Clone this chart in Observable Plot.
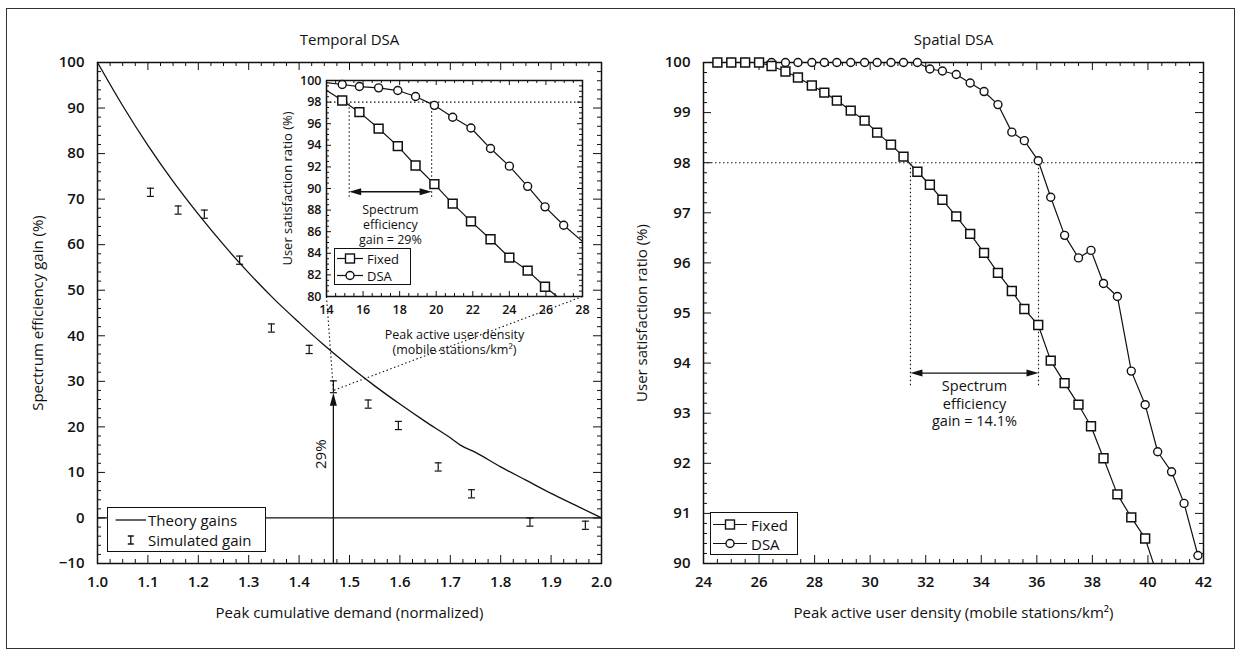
<!DOCTYPE html>
<html><head><meta charset="utf-8">
<script src="https://cdn.jsdelivr.net/npm/d3@7"></script>
<script src="https://cdn.jsdelivr.net/npm/@observablehq/plot@0.6"></script>
<style>
body{margin:0;background:#fff;font-family:"Open Sans",sans-serif;color:#111;}
#wrap{position:relative;width:1248px;height:652px;overflow:hidden;background:#fff;}
#border{position:absolute;left:6px;top:8px;width:1229px;height:641px;border:1px solid #333;box-sizing:border-box;}
.abs{position:absolute;}
.abs svg{display:block;overflow:visible;}
.legend{position:absolute;border:1.3px solid #111;background:#fff;box-sizing:border-box;}
.legend .row{position:absolute;left:0;display:flex;align-items:center;white-space:nowrap;}
.legend svg{display:block;}
</style></head><body>
<div id="wrap"><div id="border"></div></div>
<script>
// ---------------- DATA ----------------
// Temporal DSA (left panel)
const theoryX = [1.00,1.05,1.10,1.15,1.20,1.25,1.30,1.35,1.40,1.45,1.50,1.55,1.60,1.65,1.70,1.72,1.75,1.80,1.85,1.90,1.95,2.00];
const theoryY = [100,90.5,81.8,73.9,66.7,60.0,53.8,48.1,42.9,37.9,33.3,29.0,25.0,21.2,17.6,16.0,14.4,11.2,8.3,5.4,2.7,0];
const simX   = [1.105,1.16,1.212,1.282,1.345,1.42,1.468,1.537,1.597,1.676,1.742,1.858,1.968];
const simY   = [71.5,67.6,66.7,56.6,41.7,37.0,28.8,25.0,20.3,11.2,5.3,-0.9,-1.6];
const simErr = [0.9,0.9,0.9,0.9,0.9,0.9,1.3,0.9,0.9,0.9,0.9,0.9,0.9];
const gainArrowX = 1.468, gainArrowFrom = -10, gainArrowTo = 27.5, gainLabel = "29%";
const zoomTarget = {x: 1.468, y: 28};

// Inset (left panel)
const insetX     = [14,14.86,15.8,16.85,17.9,18.87,19.9,20.9,21.9,22.97,24.0,25.0,25.95,26.97,28.0];
const insetFixed = [99.1,98.15,97.07,95.55,93.92,92.13,90.4,88.6,86.96,85.3,83.6,82.4,80.9,79.5,null];
const insetDSA   = [99.8,99.63,99.44,99.32,99.07,98.52,97.7,96.6,95.6,93.7,92.07,90.2,88.3,86.6,85.1];
const insetTarget = 98, insetFixedAt = 15.24, insetDSAAt = 19.75, insetArrowY = 89.7, insetDropTo = 89.2;
const insetNote = "Spectrum\nefficiency\ngain = 29%";

// Spatial DSA (right panel)
const rightX     = [24.5,25.0,25.5,26.0,26.45,26.95,27.4,27.9,28.35,28.8,29.3,29.8,30.25,30.75,31.2,31.7,32.15,32.6,33.1,33.6,34.1,34.6,35.1,35.55,36.05,36.5,37.0,37.5,37.95,38.4,38.9,39.4,39.9,40.35,40.85,41.3,41.8];
const rightFixed = [100,100,100,100,99.93,99.82,99.7,99.54,99.4,99.24,99.04,98.84,98.6,98.36,98.12,97.82,97.56,97.26,96.93,96.58,96.2,95.8,95.44,95.08,94.76,94.05,93.6,93.17,92.74,92.1,91.38,90.92,90.5,89.75,null,null,null];
const rightDSA   = [100,100,100,100,100,100,100,100,100,100,100,100,100,100,100,100,99.87,99.83,99.76,99.59,99.42,99.16,98.61,98.44,98.04,97.31,96.55,96.1,96.25,95.59,95.33,93.84,93.17,92.23,91.83,91.2,90.16];
const rightTarget = 98, rightFixedAt = 31.45, rightDSAAt = 36.06, rightArrowY = 93.8, rightDropTo = 93.55;
const rightNote = "Spectrum\nefficiency\ngain = 14.1%";

// Text
const leftTitle = "Temporal DSA", rightTitle = "Spatial DSA";
const leftXLabel = "Peak cumulative demand (normalized)", leftYLabel = "Spectrum efficiency gain (%)";
const rightXLabel = "Peak active user density (mobile stations/km²)", rightYLabel = "User satisfaction ratio (%)";
const insetXLabel = "Peak active user density\n(mobile stations/km²)", insetYLabel = "User satisfaction ratio (%)";
const leftXTicks = [1.0,1.1,1.2,1.3,1.4,1.5,1.6,1.7,1.8,1.9,2.0];
const leftYTicks = [-10,0,10,20,30,40,50,60,70,80,90,100];
const rightXTicks = [24,26,28,30,32,34,36,38,40,42];
const rightYTicks = [90,91,92,93,94,95,96,97,98,99,100];
const insetXTicks = [14,16,18,20,22,24,26,28];
const insetYTicks = [80,82,84,86,88,90,92,94,96,98,100];

// ---------------- HELPERS ----------------
const F = '"Open Sans", sans-serif';
const INK = "#111";
const wrap = document.getElementById("wrap");
function place(node, left, top) {
  const d = document.createElement("div");
  d.className = "abs"; d.style.left = left + "px"; d.style.top = top + "px";
  d.appendChild(node); wrap.appendChild(d);
}
function tickList(start, stop, step, majorEvery) {
  const n = Math.round((stop - start) / step);
  return d3.range(n + 1).map(i => ({v: +(start + i * step).toFixed(6), major: i % majorEvery === 0}));
}
function frameTicks(xT, yT, xd, yd, kx, ky, maj, min) {
  const lv = d => (d.major ? maj : min) / ky;
  const lh = d => (d.major ? maj : min) / kx;
  const o = {stroke: INK, strokeWidth: 1};
  return [
    Plot.ruleX(xT, {x: "v", y1: yd[0], y2: d => yd[0] + lv(d), ...o}),
    Plot.ruleX(xT, {x: "v", y1: yd[1], y2: d => yd[1] - lv(d), ...o}),
    Plot.ruleY(yT, {y: "v", x1: xd[0], x2: d => xd[0] + lh(d), ...o}),
    Plot.ruleY(yT, {y: "v", x1: xd[1], x2: d => xd[1] - lh(d), ...o})
  ];
}
const headUp = {draw(c){c.moveTo(0,0);c.lineTo(3.5,13);c.lineTo(-3.5,13);c.closePath();}};
const headLeft = {draw(c){c.moveTo(0,0);c.lineTo(12,-3.5);c.lineTo(12,3.5);c.closePath();}};
const headRight = {draw(c){c.moveTo(0,0);c.lineTo(-12,-3.5);c.lineTo(-12,3.5);c.closePath();}};
const zip = (xs, ys) => xs.map((x, i) => ({x, y: ys[i]})).filter(d => d.y != null);
const titleOpts = {text: d => d, textAnchor: "middle", lineAnchor: "middle"};

// ---------------- LEFT PANEL ----------------
const L = {w: 620, h: 652, ml: 97, mr: 19, mt: 62, mb: 89};
const xDomL = [1, 2], yDomL = [-10, 100];
const kxL = (L.w - L.ml - L.mr) / (xDomL[1] - xDomL[0]);
const kyL = (L.h - L.mt - L.mb) / (yDomL[1] - yDomL[0]);
// inset frame in pixels (page coords)
const I = {left: 326, right: 582, top: 80, bottom: 296};
const invX = px => xDomL[0] + (px - L.ml) / kxL;
const invY = py => yDomL[1] - (py - L.mt) / kyL;
const zoomLinks = [
  {x1: invX(I.left), y1: invY(I.bottom), x2: zoomTarget.x, y2: zoomTarget.y},
  {x1: invX(I.right), y1: invY(I.bottom), x2: zoomTarget.x, y2: zoomTarget.y}
];
const sim = simX.map((x, i) => ({x, y: simY[i], e: simErr[i]}));
const cap = 3.5 / kxL;

const left = Plot.plot({
  width: L.w, height: L.h, marginLeft: L.ml, marginRight: L.mr, marginTop: L.mt, marginBottom: L.mb,
  x: {domain: xDomL}, y: {domain: yDomL},
  style: {fontFamily: F, fontSize: "15px", color: INK, background: "transparent", overflow: "visible"},
  marks: [
    ...frameTicks(tickList(1, 2, 0.025, 4), tickList(-10, 100, 2, 5), xDomL, yDomL, kxL, kyL, 8, 4),
    Plot.frame({stroke: INK, strokeWidth: 1.5}),
    Plot.axisX({ticks: leftXTicks, tickSize: 0, tickPadding: 13, tickFormat: d3.format(".1f"), fontWeight: 600, label: null}),
    Plot.axisY({ticks: leftYTicks, tickSize: 0, tickPadding: 13, fontWeight: 600, label: null}),
    Plot.ruleY([0], {stroke: INK, strokeWidth: 1.2}),
    Plot.line(zip(theoryX, theoryY), {x: "x", y: "y", stroke: INK, strokeWidth: 1.3, curve: "monotone-x"}),
    Plot.link(zoomLinks, {x1: "x1", y1: "y1", x2: "x2", y2: "y2", stroke: INK, strokeWidth: 1.1, strokeDasharray: "1.5,2.5"}),
    Plot.ruleX(sim, {x: "x", y1: d => d.y - d.e, y2: d => d.y + d.e, stroke: INK, strokeWidth: 1.2}),
    Plot.link(sim, {x1: d => d.x - cap, x2: d => d.x + cap, y1: d => d.y + d.e, y2: d => d.y + d.e, stroke: INK, strokeWidth: 1.2}),
    Plot.link(sim, {x1: d => d.x - cap, x2: d => d.x + cap, y1: d => d.y - d.e, y2: d => d.y - d.e, stroke: INK, strokeWidth: 1.2}),
    Plot.ruleX([gainArrowX], {y1: gainArrowFrom, y2: gainArrowTo - 2, stroke: INK, strokeWidth: 1.3}),
    Plot.dot([{x: gainArrowX, y: gainArrowTo}], {x: "x", y: "y", symbol: headUp, fill: INK, stroke: "none"}),
    Plot.text([gainLabel], {x: gainArrowX, y: 14, dx: -12, text: d => d, rotate: -90, fontSize: 15}),
    Plot.text([leftTitle], {frameAnchor: "top", dy: -22, ...titleOpts, fontSize: 15}),
    Plot.text([leftXLabel], {frameAnchor: "bottom", dy: 50, ...titleOpts, fontSize: 15}),
    Plot.text([leftYLabel], {frameAnchor: "left", dx: -59, ...titleOpts, rotate: -90, fontSize: 15})
  ]
});
place(left, 0, 0);

// ---------------- RIGHT PANEL ----------------
const R = {w: 628, h: 652, ml: 83, mr: 45, mt: 62, mb: 89};
const xDomR = [24, 42], yDomR = [90, 100];
const kxR = (R.w - R.ml - R.mr) / (xDomR[1] - xDomR[0]);
const kyR = (R.h - R.mt - R.mb) / (yDomR[1] - yDomR[0]);
const inR = d => d.x > xDomR[0] && d.x <= xDomR[1] && d.y >= yDomR[0] && d.y <= yDomR[1];
const rFixed = zip(rightX, rightFixed), rDSA = zip(rightX, rightDSA);
const right = Plot.plot({
  width: R.w, height: R.h, marginLeft: R.ml, marginRight: R.mr, marginTop: R.mt, marginBottom: R.mb,
  x: {domain: xDomR}, y: {domain: yDomR},
  style: {fontFamily: F, fontSize: "15px", color: INK, background: "transparent", overflow: "visible"},
  marks: [
    ...frameTicks(tickList(24, 42, 0.5, 4), tickList(90, 100, 0.2, 5), xDomR, yDomR, kxR, kyR, 8, 4),
    Plot.frame({stroke: INK, strokeWidth: 1.5}),
    Plot.axisX({ticks: rightXTicks, tickSize: 0, tickPadding: 13, fontWeight: 600, label: null}),
    Plot.axisY({ticks: rightYTicks, tickSize: 0, tickPadding: 13, fontWeight: 600, label: null}),
    Plot.ruleY([rightTarget], {stroke: INK, strokeWidth: 1.1, strokeDasharray: "1.5,2.5"}),
    Plot.ruleX([rightFixedAt, rightDSAAt], {y1: rightDropTo, y2: rightTarget, stroke: INK, strokeWidth: 1.1, strokeDasharray: "1.5,2.5"}),
    Plot.link([{a: rightFixedAt, b: rightDSAAt}], {x1: d => d.a + 10 / kxR, x2: d => d.b - 10 / kxR, y1: rightArrowY, y2: rightArrowY, stroke: INK, strokeWidth: 1.3}),
    Plot.dot([rightFixedAt], {x: d => d, y: rightArrowY, symbol: headLeft, fill: INK, stroke: "none"}),
    Plot.dot([rightDSAAt], {x: d => d, y: rightArrowY, symbol: headRight, fill: INK, stroke: "none"}),
    Plot.text([rightNote], {x: (rightFixedAt + rightDSAAt) / 2, y: 93.2, text: d => d, fontSize: 14.5, lineHeight: 1.2}),
    Plot.line(rFixed, {x: "x", y: "y", stroke: INK, strokeWidth: 1.2, clip: true}),
    Plot.line(rDSA, {x: "x", y: "y", stroke: INK, strokeWidth: 1.2, clip: true}),
    Plot.dot(rDSA.filter(inR), {x: "x", y: "y", symbol: "circle", r: 4, fill: "white", stroke: INK, strokeWidth: 1.4}),
    Plot.dot(rFixed.filter(inR), {x: "x", y: "y", symbol: "square", r: 5, fill: "white", stroke: INK, strokeWidth: 1.5}),
    Plot.text([rightTitle], {frameAnchor: "top", dy: -22, ...titleOpts, fontSize: 15}),
    Plot.text([rightXLabel], {frameAnchor: "bottom", dy: 50, ...titleOpts, fontSize: 15}),
    Plot.text([rightYLabel], {frameAnchor: "left", dx: -61, ...titleOpts, rotate: -90, fontSize: 15})
  ]
});
place(right, 620, 0);

// ---------------- INSET ----------------
const S = {left: 256, top: 70, w: 344, h: 296};
const IM = {ml: I.left - S.left, mr: S.left + S.w - I.right, mt: I.top - S.top, mb: S.top + S.h - I.bottom};
const xDomI = [14, 28], yDomI = [80, 100];
const kxI = (I.right - I.left) / (xDomI[1] - xDomI[0]);
const kyI = (I.bottom - I.top) / (yDomI[1] - yDomI[0]);
const inI = d => d.x > xDomI[0] + 0.2 && d.x < xDomI[1] - 0.2 && d.y >= yDomI[0] && d.y <= yDomI[1];
const iFixed = zip(insetX, insetFixed), iDSA = zip(insetX, insetDSA);
const inset = Plot.plot({
  width: S.w, height: S.h, marginLeft: IM.ml, marginRight: IM.mr, marginTop: IM.mt, marginBottom: IM.mb,
  x: {domain: xDomI}, y: {domain: yDomI},
  style: {fontFamily: F, fontSize: "12.5px", color: INK, background: "transparent", overflow: "visible"},
  marks: [
    Plot.frame({fill: "white", stroke: "none"}),
    ...frameTicks(tickList(14, 28, 0.5, 4), tickList(80, 100, 0.5, 4), xDomI, yDomI, kxI, kyI, 5, 3),
    Plot.frame({stroke: INK, strokeWidth: 1.5}),
    Plot.axisX({ticks: insetXTicks, tickSize: 0, tickPadding: 9, fontWeight: 600, label: null}),
    Plot.axisY({ticks: insetYTicks, tickSize: 0, tickPadding: 5, fontWeight: 600, label: null}),
    Plot.ruleY([insetTarget], {stroke: INK, strokeWidth: 1.1, strokeDasharray: "1.5,2.5"}),
    Plot.ruleX([insetFixedAt, insetDSAAt], {y1: insetDropTo, y2: insetTarget, stroke: INK, strokeWidth: 1.1, strokeDasharray: "1.5,2.5"}),
    Plot.link([{a: insetFixedAt, b: insetDSAAt}], {x1: d => d.a + 10 / kxI, x2: d => d.b - 10 / kxI, y1: insetArrowY, y2: insetArrowY, stroke: INK, strokeWidth: 1.3}),
    Plot.dot([insetFixedAt], {x: d => d, y: insetArrowY, symbol: headLeft, fill: INK, stroke: "none"}),
    Plot.dot([insetDSAAt], {x: d => d, y: insetArrowY, symbol: headRight, fill: INK, stroke: "none"}),
    Plot.text([insetNote], {x: (insetFixedAt + insetDSAAt) / 2, y: 86.7, text: d => d, fontSize: 12.5, lineHeight: 1.2}),
    Plot.line(iFixed, {x: "x", y: "y", stroke: INK, strokeWidth: 1.2, clip: true}),
    Plot.line(iDSA, {x: "x", y: "y", stroke: INK, strokeWidth: 1.2, clip: true}),
    Plot.dot(iDSA.filter(inI), {x: "x", y: "y", symbol: "circle", r: 4, fill: "white", stroke: INK, strokeWidth: 1.4}),
    Plot.dot(iFixed.filter(inI), {x: "x", y: "y", symbol: "square", r: 5, fill: "white", stroke: INK, strokeWidth: 1.5}),
    Plot.text([insetXLabel], {frameAnchor: "bottom", dy: 45, ...titleOpts, fontSize: 12.5, lineHeight: 1.2}),
    Plot.text([insetYLabel], {frameAnchor: "left", dx: -39, ...titleOpts, rotate: -90, fontSize: 13})
  ]
});
place(inset, S.left, S.top);

// ---------------- LEGENDS (HTML overlays) ----------------
function legend(box, rows, fontSize) {
  const d = document.createElement("div");
  d.className = "legend";
  Object.assign(d.style, {left: box.x + "px", top: box.y + "px", width: box.w + "px", height: box.h + "px", fontSize: fontSize + "px"});
  rows.forEach((r, i) => {
    const row = document.createElement("div");
    row.className = "row";
    row.style.top = (box.pad + i * box.gap) + "px";
    row.style.height = box.gap + "px";
    row.innerHTML = `<svg width="${box.sw}" height="${box.gap}" viewBox="0 0 ${box.sw} ${box.gap}">${r.icon(box.sw, box.gap)}</svg><span style="margin-left:2px">${r.label}</span>`;
    d.appendChild(row);
  });
  wrap.appendChild(d);
}
const lineIcon = (w, h) => `<line x1="${w*0.2}" x2="${w}" y1="${h/2}" y2="${h/2}" stroke="${INK}" stroke-width="1.3"/>`;
const barIcon = (w, h) => `<path d="M${w*0.6-3},${h/2-4}h6M${w*0.6-3},${h/2+4}h6M${w*0.6},${h/2-4}v8" stroke="${INK}" stroke-width="1.3" fill="none"/>`;
const sqIcon = (w, h) => `<line x1="2" x2="${w-2}" y1="${h/2}" y2="${h/2}" stroke="${INK}" stroke-width="1.2"/><rect x="${w/2-4.5}" y="${h/2-4.5}" width="9" height="9" fill="white" stroke="${INK}" stroke-width="1.4"/>`;
const ciIcon = (w, h) => `<line x1="2" x2="${w-2}" y1="${h/2}" y2="${h/2}" stroke="${INK}" stroke-width="1.2"/><circle cx="${w/2}" cy="${h/2}" r="4" fill="white" stroke="${INK}" stroke-width="1.4"/>`;
legend({x: 107, y: 507, w: 159, h: 45, pad: 2, gap: 20, sw: 38}, [{icon: lineIcon, label: "Theory gains"}, {icon: barIcon, label: "Simulated gain"}], 15);
legend({x: 710, y: 512, w: 88, h: 43, pad: 2, gap: 19, sw: 38}, [{icon: sqIcon, label: "Fixed"}, {icon: ciIcon, label: "DSA"}], 15);
legend({x: 334, y: 248, w: 77, h: 37, pad: 1, gap: 17, sw: 30}, [{icon: sqIcon, label: "Fixed"}, {icon: ciIcon, label: "DSA"}], 13);
</script>
</body></html>
